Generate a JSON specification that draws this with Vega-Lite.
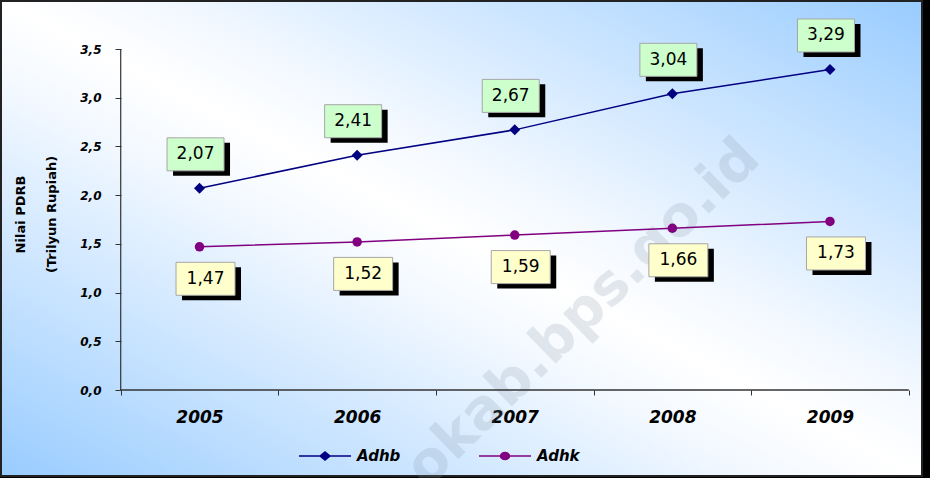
{
  "$schema": "https://vega.github.io/schema/vega-lite/v6.json",
  "width": 921,
  "height": 475,
  "autosize": {"type": "none"},
  "padding": {"left": 1, "top": 1, "right": 8, "bottom": 2},
  "background": "#000000",
  "view": {
    "fill": {
      "gradient": "linear", "x1": 0, "y1": 1, "x2": 1, "y2": 0,
      "stops": [
        {"offset": 0, "color": "#99ccff"},
        {"offset": 0.42, "color": "#f4f9ff"},
        {"offset": 0.5, "color": "#ffffff"},
        {"offset": 0.58, "color": "#f4f9ff"},
        {"offset": 1, "color": "#99ccff"}
      ]
    },
    "stroke": "#222222",
    "strokeWidth": 2
  },
  "config": {
    "locale": {"number": {"decimal": ",", "thousands": ".", "grouping": [3], "currency": ["Rp", ""]}},
    "font": "DejaVu Sans",
    "axis": {
      "domain": false,
      "grid": false,
      "labelFont": "DejaVu Sans",
      "labelFontWeight": "bold",
      "labelFontStyle": "italic",
      "labelColor": "#000000",
      "tickColor": "#333333",
      "tickWidth": 1,
      "labelOverlap": false,
      "labelFlush": false,
      "labelBound": false
    }
  },
  "data": {
    "values": [
      {"year": 2005, "series": "Adhb", "value": 2.07},
      {"year": 2006, "series": "Adhb", "value": 2.41},
      {"year": 2007, "series": "Adhb", "value": 2.67},
      {"year": 2008, "series": "Adhb", "value": 3.04},
      {"year": 2009, "series": "Adhb", "value": 3.29},
      {"year": 2005, "series": "Adhk", "value": 1.47},
      {"year": 2006, "series": "Adhk", "value": 1.52},
      {"year": 2007, "series": "Adhk", "value": 1.59},
      {"year": 2008, "series": "Adhk", "value": 1.66},
      {"year": 2009, "series": "Adhk", "value": 1.73}
    ]
  },
  "encoding": {
    "x": {
      "field": "year",
      "type": "quantitative",
      "scale": {"domain": [2003.7405, 2009.5838], "nice": false, "zero": false},
      "axis": {
        "title": null,
        "offset": -86,
        "values": [2004.5, 2005, 2005.5, 2006, 2006.5, 2007, 2007.5, 2008, 2008.5, 2009, 2009.5],
        "labelExpr": "datum.value % 1 === 0 ? '' + datum.value : ''",
        "tickOpacity": {"condition": {"test": "datum.value % 1 === 0", "value": 0}, "value": 1},
        "tickSize": 5,
        "labelFontSize": 17,
        "labelPadding": 14
      }
    },
    "y": {
      "field": "value",
      "type": "quantitative",
      "scale": {"domain": [-0.8827, 3.9927], "nice": false, "zero": false},
      "axis": {
        "title": ["Nilai PDRB", "(Trilyun Rupiah)"],
        "titleFont": "DejaVu Sans",
        "titleFontSize": 13,
        "titleFontWeight": "bold",
        "titleColor": "#000000",
        "titleAngle": 270,
        "titleAlign": "center",
        "titleBaseline": "middle",
        "titleLineHeight": 31,
        "titleX": -100.5,
        "titleY": 213,
        "offset": -120,
        "values": [0, 0.5, 1, 1.5, 2, 2.5, 3, 3.5],
        "format": ".1f",
        "tickSize": 6,
        "labelFontSize": 12,
        "labelPadding": 14
      }
    }
  },
  "layer": [
    {
      "transform": [{"filter": "datum.series === 'Adhb' && datum.year === 2005"}],
      "mark": {"type": "text", "text": "okab.bps.go.id", "angle": 315.6, "fontSize": 56, "fontWeight": "bold", "fill": "#8494a6", "opacity": 0.2, "align": "center", "baseline": "middle"},
      "encoding": {"x": {"datum": 2007.433}, "y": {"datum": 0.79}}
    },
    {
      "transform": [{"filter": "datum.series === 'Adhb' && datum.year === 2005"}],
      "mark": {"type": "rule", "color": "#333333", "strokeWidth": 1.2},
      "encoding": {"x": {"datum": 2004.5}, "y": {"datum": 0}, "y2": {"datum": 3.5}}
    },
    {
      "transform": [{"filter": "datum.series === 'Adhb' && datum.year === 2005"}],
      "mark": {"type": "rule", "color": "#333333", "strokeWidth": 1.5},
      "encoding": {"y": {"datum": 0}, "x": {"datum": 2004.5}, "x2": {"datum": 2009.5}}
    },
    {
      "transform": [{"filter": "datum.series === 'Adhb'"}],
      "mark": {"type": "line", "strokeWidth": 1.5, "color": "#000080"},
      "encoding": {}
    },
    {
      "transform": [{"filter": "datum.series === 'Adhk'"}],
      "mark": {"type": "line", "strokeWidth": 1.5, "color": "#800080"},
      "encoding": {}
    },
    {
      "transform": [{"filter": "datum.series === 'Adhb'"}],
      "mark": {"type": "point", "shape": "diamond", "filled": true, "size": 121, "opacity": 1, "color": "#000080"}
    },
    {
      "transform": [{"filter": "datum.series === 'Adhk'"}],
      "mark": {"type": "point", "shape": "circle", "filled": true, "size": 90, "opacity": 1, "color": "#800080"}
    },
    {
      "transform": [{"filter": "datum.series === 'Adhb'"}],
      "mark": {"type": "point", "shape": "M-0.883,-1.517H1.017V-0.417H-0.883Z", "size": 3600, "filled": true, "fill": "#000000", "strokeWidth": 0, "opacity": 1}
    },
    {
      "transform": [{"filter": "datum.series === 'Adhb'"}],
      "mark": {"type": "point", "shape": "M-1.083,-1.683H0.817V-0.583H-1.083Z", "size": 3600, "filled": true, "fill": "#ccffcc", "stroke": "#a6a6a6", "strokeWidth": 1, "opacity": 1}
    },
    {
      "transform": [{"filter": "datum.series === 'Adhb'"}],
      "mark": {"type": "text", "dx": -4, "dy": -34, "fontSize": 17, "font": "DejaVu Sans", "color": "#000000", "align": "center", "baseline": "middle"},
      "encoding": {"text": {"field": "value", "type": "quantitative", "format": ".2f"}}
    },
    {
      "transform": [{"filter": "datum.series === 'Adhk'"}],
      "mark": {"type": "point", "shape": "M-0.583,0.683H1.383V1.783H-0.583Z", "size": 3600, "filled": true, "fill": "#000000", "strokeWidth": 0, "opacity": 1}
    },
    {
      "transform": [{"filter": "datum.series === 'Adhk'"}],
      "mark": {"type": "point", "shape": "M-0.783,0.517H1.183V1.617H-0.783Z", "size": 3600, "filled": true, "fill": "#ffffcc", "stroke": "#a6a6a6", "strokeWidth": 1, "opacity": 1}
    },
    {
      "transform": [{"filter": "datum.series === 'Adhk'"}],
      "mark": {"type": "text", "dx": 6, "dy": 32, "fontSize": 17, "font": "DejaVu Sans", "color": "#000000", "align": "center", "baseline": "middle"},
      "encoding": {"text": {"field": "value", "type": "quantitative", "format": ".2f"}}
    },
    {
      "transform": [{"filter": "false"}],
      "mark": {"type": "point", "filled": false, "opacity": 1, "strokeWidth": 1.5},
      "encoding": {
        "color": {
          "field": "series", "type": "nominal",
          "scale": {"domain": ["Adhb", "Adhk"], "range": ["#000080", "#800080"]},
          "legend": {
            "title": null, "orient": "none", "legendX": 313, "legendY": 444, "direction": "horizontal",
            "symbolSize": 400, "symbolStrokeWidth": 1.5,
            "labelFont": "DejaVu Sans", "labelFontSize": 15, "labelFontWeight": "bold", "labelFontStyle": "italic", "labelColor": "#000000",
            "labelOffset": 21, "columnPadding": 75
          }
        },
        "shape": {
          "field": "series", "type": "nominal",
          "scale": {
            "domain": ["Adhb", "Adhk"],
            "range": [
              "M-2.6,0L2.6,0M-0.5,0L0,-0.4L0.5,0L0,0.4ZM-0.375,0L0,-0.3L0.375,0L0,0.3ZM-0.25,0L0,-0.2L0.25,0L0,0.2ZM-0.125,0L0,-0.1L0.125,0L0,0.1Z",
              "M-2.6,0L2.6,0M-0.45,0A0.45,0.35 0 1,0 0.45,0A0.45,0.35 0 1,0 -0.45,0ZM-0.3,0A0.3,0.233 0 1,0 0.3,0A0.3,0.233 0 1,0 -0.3,0ZM-0.15,0A0.15,0.117 0 1,0 0.15,0A0.15,0.117 0 1,0 -0.15,0Z"
            ]
          },
          "legend": {
            "title": null, "orient": "none", "legendX": 313, "legendY": 444, "direction": "horizontal",
            "symbolSize": 400, "symbolStrokeWidth": 1.5,
            "labelFont": "DejaVu Sans", "labelFontSize": 15, "labelFontWeight": "bold", "labelFontStyle": "italic", "labelColor": "#000000",
            "labelOffset": 21, "columnPadding": 75
          }
        }
      }
    }
  ]
}
